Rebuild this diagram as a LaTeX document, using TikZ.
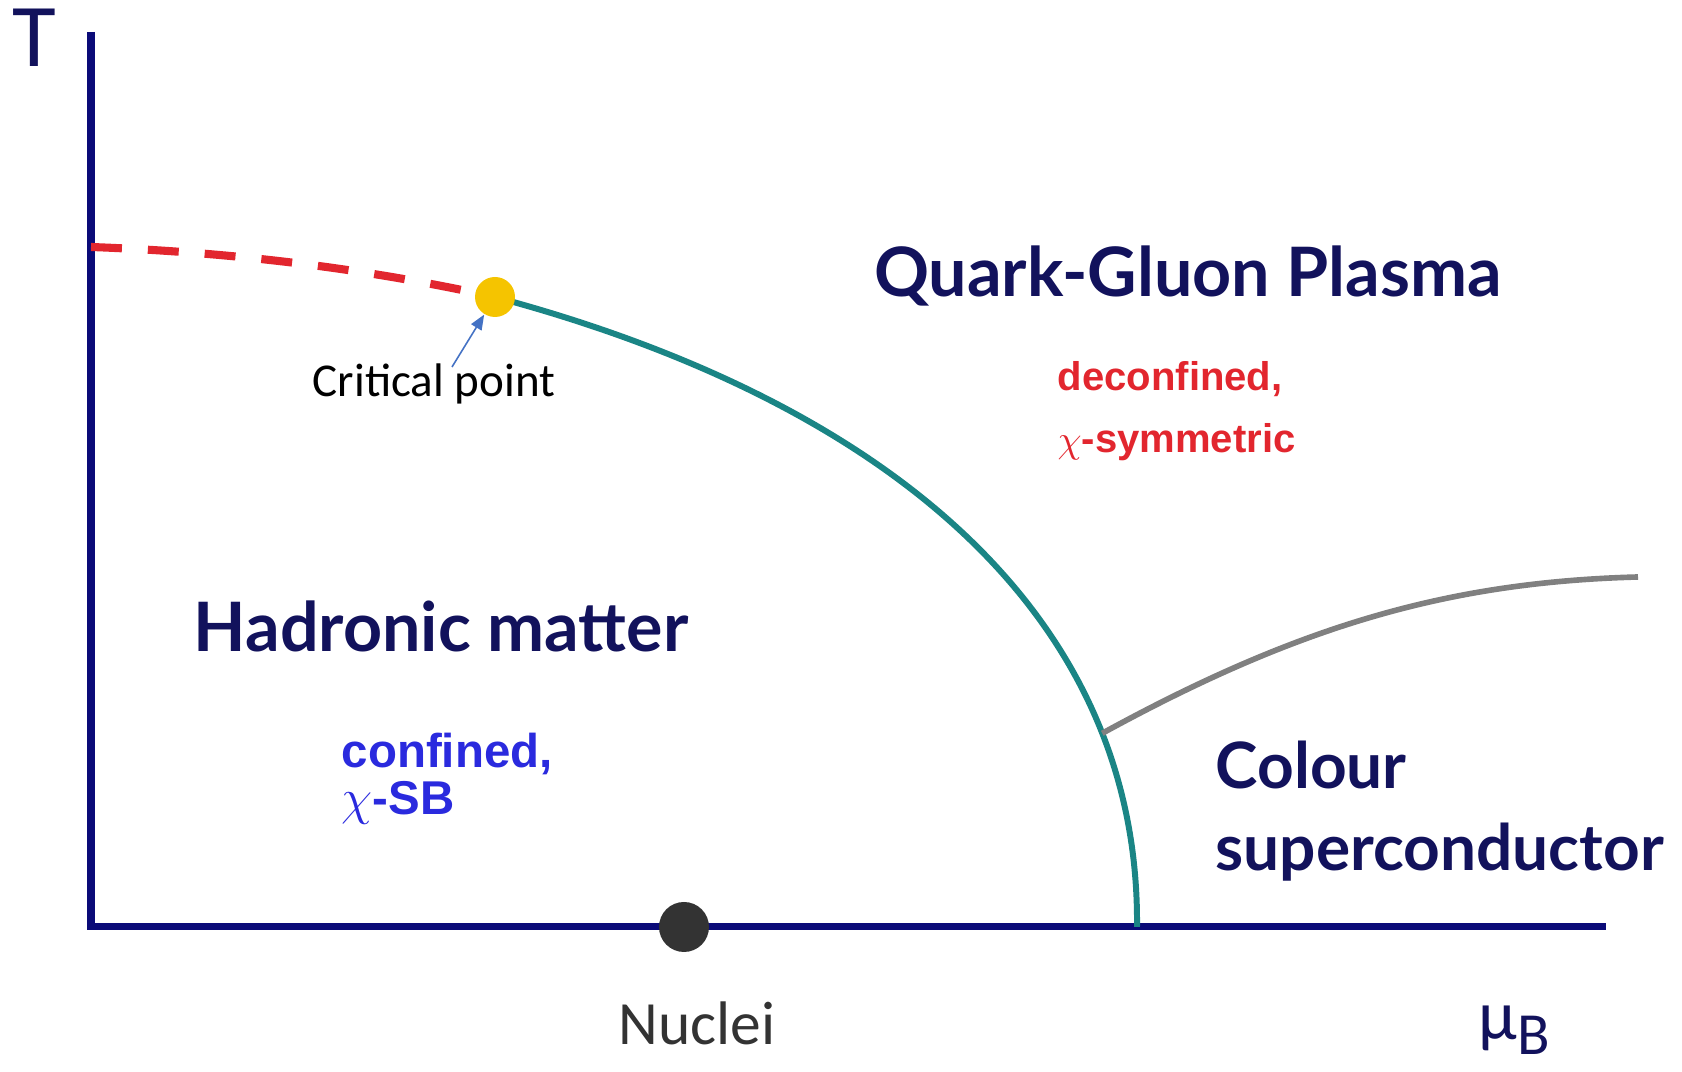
\documentclass[tikz,border=0pt]{standalone}
\usepackage{fontspec}
\setmainfont{Carlito}
\newfontfamily\titlefont{Lato}
\newfontfamily\notefont{Liberation Sans}
\usetikzlibrary{arrows.meta,calc}
\definecolor{Navy}{HTML}{0B0B78}
\definecolor{Ink}{HTML}{12125C}
\definecolor{Teal}{HTML}{1A8585}
\definecolor{Crit}{HTML}{F5C400}
\definecolor{Hot}{HTML}{E2262E}
\definecolor{Cold}{HTML}{2A2ADE}
\definecolor{Dim}{HTML}{808080}
\definecolor{Core}{HTML}{333333}
\definecolor{Pointer}{HTML}{4472C4}
\tikzset{
 axis/.style={draw=Navy,line width=2pt},
 phase/.style={draw=Teal,line width=1.7pt},
 crossover/.style={draw=Hot,line width=2.3pt,dash pattern=on 8.8pt off 7.4pt},
 csc/.style={draw=Dim,line width=1.6pt},
 region/.style={text=Ink,inner sep=0pt,font=\titlefont\bfseries\fontsize{19.4}{23.6}\selectfont},
 note/.style={inner sep=0pt,align=left},
 hotnote/.style={note,text=Hot,font=\notefont\bfseries\fontsize{11.4}{17.9}\selectfont},
 coldnote/.style={note,text=Cold,font=\notefont\bfseries\fontsize{13.5}{13.4}\selectfont},
 dot/.style={circle,inner sep=0pt,minimum size=0.40cm},
 ptr/.style={-{Triangle[length=0.15cm,width=0.12cm]},draw=Pointer,line width=0.45pt}
}
\begin{document}
\begin{tikzpicture}
\useasboundingbox (-0.91,-1.45) rectangle (15.91,9.27);
% axes
\draw[axis] (0,8.95) -- (0,0) -- (15.15,0);
\node[text=Ink,anchor=base,inner sep=0pt,font=\fontsize{25.5}{28}\selectfont] (T) at (-0.57,8.60) {T};
\node[text=Ink,anchor=base west,inner sep=0pt,font=\fontsize{20}{22}\selectfont] (muB) at (13.87,-1.13) {μ\lower0.15cm\hbox{\fontsize{17}{19}\selectfont B}};
% phase lines
\coordinate (crit) at (4.04,6.30);
\coordinate (tc0) at (0,6.80);
\draw[crossover] (tc0) .. controls (1.6,6.74) and (2.9,6.55) .. (crit);
\draw[phase] (crit) .. controls (7.89,5.27) and (10.49,3.17) .. (10.46,0) coordinate[pos=0.78] (csc0);
\draw[csc] (csc0) .. controls (12.09,3.02) and (13.59,3.45) .. (15.47,3.50);
\node[dot,fill=Crit] (cp) at (crit) {};
\coordinate (cptail) at (3.61,5.60);
\draw[ptr] (cptail) -- (cp);
\node[anchor=base,inner sep=0pt,font=\fontsize{13.4}{16}\selectfont] (cplab) at (3.43,5.30) {Critical point};
% nuclei
\node[dot,fill=Core,minimum size=0.50cm] (nuc) at (5.93,0) {};
\node[text=Core,anchor=base,inner sep=0pt,font=\fontsize{17.5}{20}\selectfont] (nuclab) at (6.06,-1.18) {Nuclei};
% regions
\node[region,anchor=base] (qgp) at (10.97,6.30) {Quark-Gluon Plasma};
\node[hotnote,anchor=base west] (qgpnote) at (9.66,4.74) {deconfined,\\$\chi$-symmetric};
\node[region,anchor=base] (had) at (3.50,2.75) {Hadronic matter};
\node[coldnote,anchor=base west] (hadnote) at (2.50,1.12) {confined,\\$\chi$-SB};
\node[region,align=left,anchor=base west,font=\titlefont\bfseries\fontsize{18.2}{23.6}\selectfont] (cscl) at (11.24,0.56) {Colour\\superconductor};
\end{tikzpicture}
\end{document}
